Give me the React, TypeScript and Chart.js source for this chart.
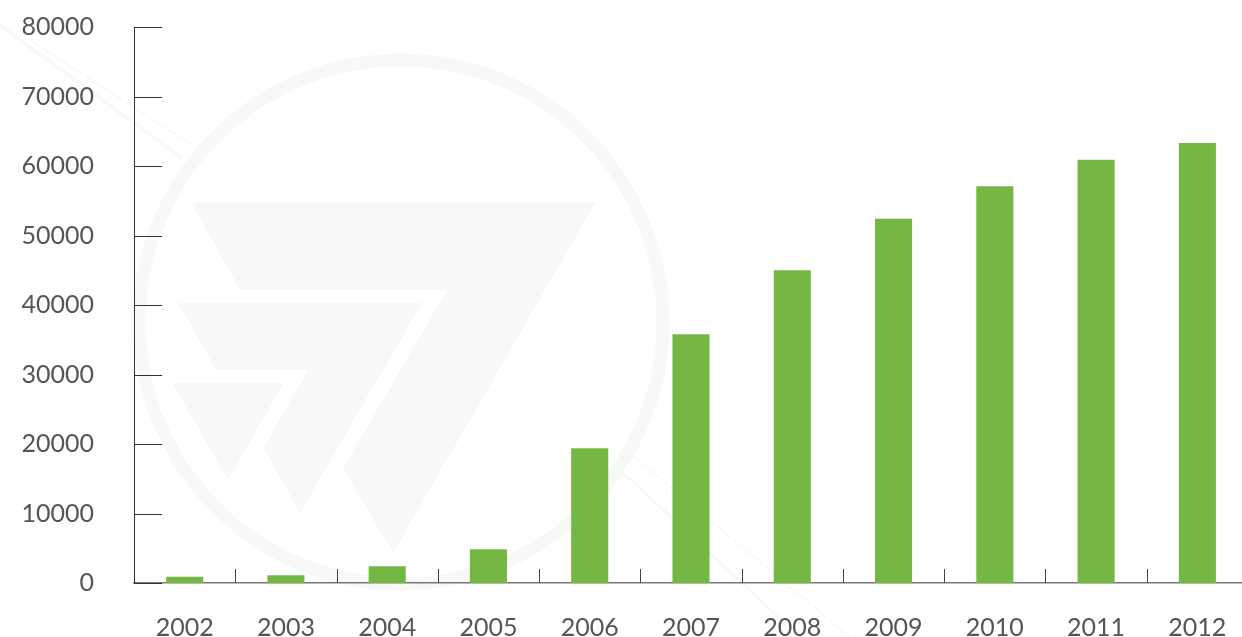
import React, { useEffect, useRef } from "react";
import { Chart, registerables } from "chart.js";

Chart.register(...registerables);

const years = ["2002", "2003", "2004", "2005", "2006", "2007", "2008", "2009", "2010", "2011", "2012"];
const values = [900, 1100, 2400, 4850, 19400, 35800, 45000, 52400, 57100, 60900, 63300];
const yMin = 0;
const yMax = 80000;
const yStep = 10000;

const FONT = "Lato";

const watermarkPlugin = {
  id: "watermark",
  beforeDraw(chart: any) {
    const ctx = chart.ctx;
    ctx.save();
    ctx.fillStyle = "#f7f9f7";
    ctx.strokeStyle = "#f7f9f7";
    // ring
    ctx.lineWidth = 13;
    ctx.beginPath();
    ctx.arc(401, 322, 262, 0, Math.PI * 2);
    ctx.stroke();
    // shapes
    const polys = [
      [[191, 202], [596, 202], [393, 553], [343, 468], [447, 290], [240, 290]],
      [[178, 303], [422, 303], [300, 513], [263, 448], [308, 370], [216, 370]],
      [[172, 383], [284, 383], [228, 480]],
    ];
    polys.forEach((p) => {
      ctx.beginPath();
      ctx.moveTo(p[0][0], p[0][1]);
      for (let i = 1; i < p.length; i++) ctx.lineTo(p[i][0], p[i][1]);
      ctx.closePath();
      ctx.fill();
    });
    // diagonal lines
    ctx.lineWidth = 4;
    ctx.beginPath();
    ctx.moveTo(0, 25);
    ctx.lineTo(182, 158);
    ctx.stroke();
    ctx.lineWidth = 1.5;
    ctx.beginPath();
    ctx.moveTo(30, 40);
    ctx.lineTo(192, 145);
    ctx.stroke();
    ctx.lineWidth = 3;
    ctx.beginPath();
    ctx.moveTo(617, 467);
    ctx.lineTo(800, 637);
    ctx.stroke();
    ctx.lineWidth = 1.5;
    ctx.beginPath();
    ctx.moveTo(620, 445);
    ctx.lineTo(850, 637);
    ctx.stroke();
    ctx.restore();
  },
};

const innerTicksPlugin = {
  id: "innerTicks",
  afterDraw(chart: any) {
    const ctx = chart.ctx;
    const xs = chart.scales.x;
    const ys = chart.scales.y;
    ctx.save();
    ctx.lineWidth = 1;
    ctx.strokeStyle = "#333";
    ctx.beginPath();
    ys.ticks.forEach((_: any, i: number) => {
      const py = Math.round(ys.getPixelForTick(i)) + 0.5;
      ctx.moveTo(xs.left, py);
      ctx.lineTo(xs.left + 28, py);
    });
    ctx.stroke();
    ctx.strokeStyle = "#444";
    ctx.beginPath();
    for (let i = 1; i < years.length; i++) {
      const px = Math.round((xs.getPixelForTick(i - 1) + xs.getPixelForTick(i)) / 2) + 0.5;
      ctx.moveTo(px, ys.bottom);
      ctx.lineTo(px, ys.bottom - 14);
    }
    ctx.stroke();
    ctx.restore();
  },
};

export default function App() {
  const ref = useRef<HTMLCanvasElement | null>(null);
  useEffect(() => {
    document.body.style.margin = "0";
    document.body.style.overflow = "hidden";
    const canvas = ref.current;
    if (!canvas) return;
    const chart = new Chart(canvas, {
      type: "bar",
      data: {
        labels: years,
        datasets: [
          {
            data: values,
            backgroundColor: "#74b843",
            borderWidth: 0,
            categoryPercentage: 1,
            barPercentage: 0.366,
          },
        ],
      },
      plugins: [watermarkPlugin, innerTicksPlugin],
      options: {
        responsive: false,
        animation: false,
        devicePixelRatio: 1,
        layout: { padding: { top: 27, left: 0, right: 0, bottom: 0 } },
        plugins: { legend: { display: false }, tooltip: { enabled: false } },
        scales: {
          x: {
            grid: { display: false, drawTicks: false },
            border: { display: true, color: "#777", width: 1.5 },
            ticks: {
              font: { family: FONT, size: 25 },
              color: "#555",
              padding: 30,
              maxRotation: 0,
            },
            afterFit(s: any) {
              s.height = 54;
              s.paddingLeft = 0;
              s.paddingRight = 0;
              s.paddingTop = 0;
              s.paddingBottom = 0;
            },
          },
          y: {
            min: yMin,
            max: yMax,
            grid: { display: false, drawTicks: false },
            border: { display: true, color: "#333", width: 1 },
            ticks: {
              stepSize: yStep,
              font: { family: FONT, size: 25 },
              color: "#555",
              padding: 40,
              callback: (v: any) => String(v),
            },
            afterFit(s: any) {
              s.width = 134;
              s.paddingLeft = 0;
              s.paddingRight = 0;
              s.paddingTop = 0;
              s.paddingBottom = 0;
            },
          },
        },
      },
    });
    return () => chart.destroy();
  }, []);
  return (
    <div style={{ width: 1242, height: 637, overflow: "hidden", background: "#fff" }}>
      <canvas ref={ref} width={1248} height={637} style={{ display: "block" }} />
    </div>
  );
}
